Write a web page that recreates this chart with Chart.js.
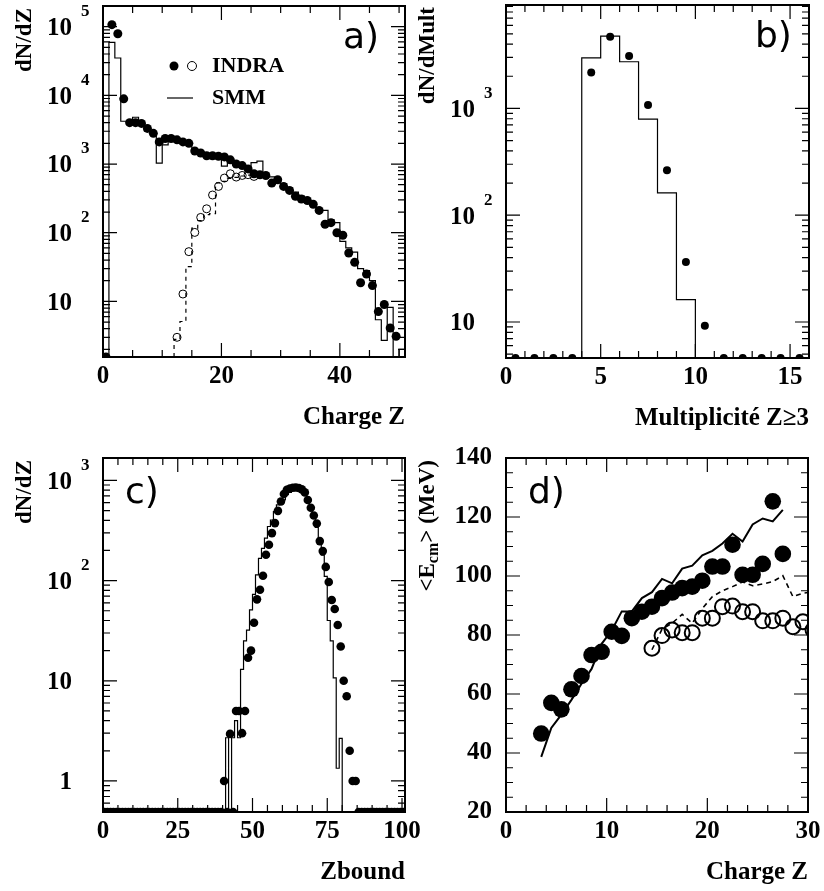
<!DOCTYPE html>
<html>
<head>
<meta charset="utf-8">
<title>INDRA / SMM</title>
<script src="https://cdn.jsdelivr.net/npm/chart.js@4.4.1/dist/chart.umd.min.js"></script>
<style>
  html, body { margin: 0; padding: 0; background: #fff; }
  body { position: relative; width: 824px; height: 891px; overflow: hidden; }
  canvas { position: absolute; }
  #panel-a { left: 0; top: 0; }
  #panel-b { left: 400px; top: 0; }
  #panel-c { left: 0; top: 420px; }
  #panel-d { left: 400px; top: 420px; }
</style>
</head>
<body>
<canvas id="panel-a" width="424" height="440"></canvas>
<canvas id="panel-b" width="424" height="440"></canvas>
<canvas id="panel-c" width="424" height="471"></canvas>
<canvas id="panel-d" width="424" height="471"></canvas>
<script>
const SERIF = '"Liberation Serif", "Times New Roman", serif';

// a) charge distribution (bins of one charge unit)
const aZ = [0, 1, 2, 3, 4, 5, 6, 7, 8, 9, 10, 11, 12, 13, 14, 15, 16, 17, 18, 19, 20, 21, 22, 23, 24,
            25, 26, 27, 28, 29, 30, 31, 32, 33, 34, 35, 36, 37, 38, 39, 40, 41, 42, 43, 44, 45, 46, 47, 48, 49];
const aIndra = [0, 107000, 79000, 8900, 4000, 4000, 3900, 3300, 2800, 2100, 2350, 2350, 2250, 2100, 2000,
                1550, 1450, 1320, 1320, 1300, 1270, 1150, 1000, 950, 850, 722, 698, 682, 528, 590,
                472, 413, 340, 310, 295, 260, 211, 133, 140, 100, 92, 50.6, 37, 18.7, 25, 17, 7.1, 9, 4.1, 3.1];
const aOpenZ = [12, 13, 14, 15, 16, 17, 18, 19, 20, 21, 22, 23, 24, 25];
const aIndraOpen = [3.0, 12.8, 53, 101, 167, 223, 354, 472, 625, 722, 646, 682, 700, 660];
const aSmm = [0, 59000, 35000, 4200, 4200, 4800, 3800, 3000, 2800, 1030, 1900, 2200, 2100, 2000, 1900,
              1600, 1450, 1300, 1200, 1300, 930, 1050, 950, 900, 820, 1050, 1100, 720, 650, 600,
              520, 450, 390, 340, 300, 260, 225, 211, 155, 140, 75, 60, 52, 30, 28, 20, 5.4, 2.7, 8.2, 0, 2.0];
const aSmmOpenStart = 12;
const aSmmOpen = [2.8, 5.1, 32, 117, 150, 183, 190, 530, 560, 620, 640, 670, 690, 700];
const aXTicks = [0, 20, 40];
const aYLabels = [10, 100, 1000, 10000, 100000];

// b) multiplicity of fragments Z>=3
const bMult = [0, 1, 2, 3, 4, 5, 6, 7, 8, 9, 10, 11, 12, 13, 14, 15];
const bIndra = [0, 0, 0, 0, 2175, 4690, 3090, 1074, 264, 36.5, 9.2, 0, 0, 0, 0, 0];
const bSmm = [0, 0, 0, 0, 2980, 4760, 2735, 794, 162, 16.2, 0, 0, 0, 0, 0, 0];
const bXTicks = [0, 5, 10, 15];
const bYLabels = [10, 100, 1000];

// c) Zbound
const cZbound = [0, 1, 2, 3, 4, 5, 6, 7, 8, 9, 10, 11, 12, 13, 14, 15, 16, 17, 18, 19,
                 20, 21, 22, 23, 24, 25, 26, 27, 28, 29, 30, 31, 32, 33, 34, 35, 36, 37, 38, 39,
                 40, 41, 42, 43, 44, 45, 46, 47, 48, 49, 50, 51, 52, 53, 54, 55, 56, 57, 58, 59,
                 60, 61, 62, 63, 64, 65, 66, 67, 68, 69, 70, 71, 72, 73, 74, 75, 76, 77, 78, 79,
                 80, 81, 82, 83, 84, 85, 86, 87, 88, 89, 90, 91, 92, 93, 94, 95, 96, 97, 98, 99, 100];
const cIndra = [0, 0, 0, 0, 0, 0, 0, 0, 0, 0, 0, 0, 0, 0, 0, 0, 0, 0, 0, 0,
                0, 0, 0, 0, 0, 0, 0, 0, 0, 0, 0, 0, 0, 0, 0, 0, 0, 0, 0, 0,
                1.0, 0, 2.95, 0, 5.0, 5.0, 3.0, 5.0, 17, 20, 38, 65, 81, 112, 181, 228, 298, 375, 497, 617,
                733, 808, 830, 845, 850, 840, 815, 760, 638, 533, 447, 372, 248, 197, 137, 97, 64, 52, 36, 22,
                10, 7, 2, 1, 1, 0, 0, 0, 0, 0, 0, 0, 0, 0, 0, 0, 0, 0, 0, 0, 0];
const cSmmStart = 40;
const cSmm = [0, 2.7, 0, 2.7, 4.0, 2.7, 13, 25, 32, 51, 73, 114, 167, 210, 265, 347, 403, 490, 570, 610,
              640, 720, 760, 810, 830, 830, 820, 780, 650, 540, 440, 340, 250, 180, 110, 40, 25, 10.7, 1.34, 2.66, 0];
const cXTicks = [0, 25, 50, 75, 100];
const cYLabels = [1, 10, 100, 1000];

// d) mean c.m. energy versus charge
const dZ = [3, 4, 5, 6, 7, 8, 9, 10, 11, 12, 13, 14, 15, 16, 17, 18, 19, 20, 21, 22, 23, 24, 25, 26, 27];
const dIndra = [46.6, 57.0, 54.8, 61.6, 66.1, 73.2, 74.3, 81.1, 79.7, 85.7, 87.9, 89.6, 92.5, 94.4, 95.9,
                96.4, 98.4, 103.2, 103.2, 110.6, 100.4, 100.4, 104.1, 125.3, 107.5];
const dSmm = [38.7, 48.5, 53, 58, 63.5, 68.5, 77, 81.5, 88, 88, 92.5, 94.5, 99, 97.5, 102.5,
              103.5, 107, 108.5, 111, 114.3, 111.7, 117.5, 119.5, 118.5, 122.4];
const dOpenZ = [14, 15, 16, 17, 18, 19, 20, 21, 22, 23, 24, 25, 26, 27, 28, 29, 30];
const dIndraOpen = [75.5, 79.8, 81.7, 80.8, 80.8, 85.7, 85.7, 89.6, 89.8, 87.9, 87.9, 84.8, 84.8, 85.7, 82.8, 84.5, 81.7];
const dSmmOpen = [75, 82, 84, 87, 84, 89, 93, 95, 96.4, 98, 96.7, 97.3, 98.1, 100.1, 93, 94.2, 94.6];
const dXTicks = [0, 10, 20, 30];
const dYTicks = [20, 40, 60, 80, 100, 120, 140];

// ---------- helpers ----------
// points sit in the middle of their bin; empty bins are pinned to the axis floor
const binPoints = (zs, vals, floor) => zs.map((z, i) => ({ x: z + 0.5, y: vals[i] > 0 ? vals[i] : floor }));

// histogram outline: one point per upper bin edge, drawn with vertical-then-horizontal steps
const histSteps = (start, vals, floor) => {
    const pts = [{ x: start, y: floor }];
    vals.forEach((v, i) => pts.push({ x: start + i + 1, y: v > 0 ? v : floor }));
    return pts;
};

const dots = (data, r, filled, bw) => ({
    data, showLine: false, pointRadius: r, pointHoverRadius: r,
    pointBackgroundColor: filled ? '#000' : 'rgba(0,0,0,0)',
    pointBorderColor: '#000', pointBorderWidth: filled ? 0 : (bw || 1), clip: 0
});
const hist = (data, dash) => ({
    data, showLine: true, stepped: 'after', pointRadius: 0, borderColor: '#000',
    borderWidth: 1.2, borderDash: dash || [], fill: false, clip: 0
});
const curve = (data, width, dash) => ({
    data, showLine: true, pointRadius: 0, borderColor: '#000',
    borderWidth: width, borderDash: dash || [], fill: false, tension: 0, clip: 0
});

function logMarks(min, max) {
    const major = [], minor = [];
    for (let e = Math.floor(Math.log10(min)); e <= Math.ceil(Math.log10(max)); e++) {
        const d = Math.pow(10, e);
        if (d >= min && d <= max) major.push(d);
        for (let m = 2; m <= 9; m++) {
            if (m * d >= min && m * d <= max) minor.push(m * d);
        }
    }
    return { major, minor };
}
function linMarks(min, max, step) {
    const out = [];
    for (let v = min; v <= max + 1e-9; v += step) out.push(Math.round(v * 1000) / 1000);
    return out;
}

// ---------- ROOT-like frame, ticks and texts ----------
const FRAMES = {};
const rootFrame = {
    id: 'rootFrame',
    afterDraw(chart) {
        const p = FRAMES[chart.canvas.id];
        if (!p) return;
        const { ctx, chartArea: a } = chart;
        const sx = chart.scales.x, sy = chart.scales.y;
        ctx.save();
        ctx.strokeStyle = '#000';
        ctx.fillStyle = '#000';

        // tick marks pointing inwards, on all four sides
        ctx.lineWidth = 1.2;
        ctx.beginPath();
        const markX = (v, len) => {
            const px = sx.getPixelForValue(v);
            ctx.moveTo(px, a.bottom); ctx.lineTo(px, a.bottom - len);
            ctx.moveTo(px, a.top); ctx.lineTo(px, a.top + len);
        };
        const markY = (v, len) => {
            const py = sy.getPixelForValue(v);
            ctx.moveTo(a.left, py); ctx.lineTo(a.left + len, py);
            ctx.moveTo(a.right, py); ctx.lineTo(a.right - len, py);
        };
        p.xMajor.forEach(v => markX(v, 14));
        p.xMinor.forEach(v => markX(v, 7));
        p.yMajor.forEach(v => markY(v, 14));
        p.yMinor.forEach(v => markY(v, 7));
        ctx.stroke();

        ctx.lineWidth = 2;
        ctx.strokeRect(a.left, a.top, a.right - a.left, a.bottom - a.top);

        // log axis labels: 1, 10, 10^n
        if (p.logLabels) {
            p.logLabels.forEach(v => {
                const py = sy.getPixelForValue(v);
                const e = Math.round(Math.log10(v));
                ctx.font = `bold 25px ${SERIF}`;
                ctx.textAlign = 'right';
                ctx.textBaseline = 'middle';
                ctx.fillText(e === 0 ? '1' : '10', a.left - 31, py + 2);
                if (e > 1) {
                    ctx.font = `bold 17px ${SERIF}`;
                    ctx.textAlign = 'left';
                    ctx.fillText(String(e), a.left - 22, py - 15);
                }
            });
        }

        // x title, right aligned on the frame
        ctx.font = `bold 25px ${SERIF}`;
        ctx.textAlign = 'right';
        ctx.textBaseline = 'middle';
        ctx.fillText(p.xTitle, a.right, a.bottom + 61);

        // y title, rotated, ending at the top of the frame
        ctx.save();
        ctx.translate(a.left - 78, a.top + 2);
        ctx.rotate(-Math.PI / 2);
        ctx.textAlign = 'left';
        ctx.textBaseline = 'middle';
        const fMain = `bold 23px ${SERIF}`, fSub = `bold 16px ${SERIF}`;
        let total = 0;
        p.yTitle.forEach(([t, sub]) => { ctx.font = sub ? fSub : fMain; total += ctx.measureText(t).width; });
        let cx = -total;
        p.yTitle.forEach(([t, sub]) => {
            ctx.font = sub ? fSub : fMain;
            ctx.fillText(t, cx, sub ? 6 : 0);
            cx += ctx.measureText(t).width;
        });
        ctx.restore();

        // panel tag
        ctx.font = '36px "DejaVu Sans", sans-serif';
        ctx.textAlign = 'left';
        ctx.textBaseline = 'alphabetic';
        ctx.fillText(p.tag[0], p.tag[1], p.tag[2]);

        // legend (panel a only)
        if (p.legend) {
            const L = p.legend;
            ctx.beginPath(); ctx.arc(L.dotX, L.row1, 4.5, 0, 2 * Math.PI); ctx.fill();
            ctx.lineWidth = 1;
            ctx.beginPath(); ctx.arc(L.ringX, L.row1, 4.5, 0, 2 * Math.PI); ctx.stroke();
            ctx.lineWidth = 1.2;
            ctx.beginPath(); ctx.moveTo(L.lineX0, L.row2); ctx.lineTo(L.lineX1, L.row2); ctx.stroke();
            ctx.font = `bold 22px ${SERIF}`;
            ctx.textBaseline = 'middle';
            ctx.fillText('INDRA', L.textX, L.row1);
            ctx.fillText('SMM', L.textX, L.row2);
        }
        ctx.restore();
    }
};
Chart.register(rootFrame);

function makeScales(p) {
    const tickFont = { family: SERIF, size: 25, weight: 'bold' };
    return {
        x: {
            type: 'linear', min: p.xMin, max: p.xMax, bounds: 'data',
            grid: { display: false, drawTicks: false }, border: { display: false },
            ticks: { font: tickFont, color: '#000', padding: 5, maxRotation: 0, autoSkip: false },
            afterBuildTicks: s => { s.ticks = p.xTicks.map(v => ({ value: v })); },
            afterFit: s => { s.height = p.xHeight; s.paddingLeft = 0; s.paddingRight = 0; }
        },
        y: {
            type: p.yLog ? 'logarithmic' : 'linear', min: p.yMin, max: p.yMax, bounds: 'data',
            grid: { display: false, drawTicks: false }, border: { display: false },
            ticks: p.yLog ? { display: false } : { font: tickFont, color: '#000', padding: 14, autoSkip: false },
            afterBuildTicks: s => { if (p.yTicks) s.ticks = p.yTicks.map(v => ({ value: v })); },
            afterFit: s => { s.width = p.yWidth; s.paddingTop = 0; s.paddingBottom = 0; }
        }
    };
}

function makePanel(id, p, datasets) {
    FRAMES[id] = p;
    return new Chart(document.getElementById(id), {
        type: 'scatter',
        data: { datasets },
        options: {
            responsive: false, animation: false, devicePixelRatio: 1, events: [],
            layout: { padding: { left: 0, top: p.padT, right: p.padR, bottom: 0 } },
            plugins: { legend: { display: false }, tooltip: { enabled: false } },
            scales: makeScales(p)
        }
    });
}

// ---------- panel a ----------
const A_MIN = 1.55, A_MAX = 2.0e5;
const aLog = logMarks(A_MIN, A_MAX);
makePanel('panel-a', {
    xMin: 0, xMax: 51, yMin: A_MIN, yMax: A_MAX, yLog: true,
    yWidth: 103, padT: 6, padR: 19, xHeight: 83,
    xTicks: aXTicks, xMajor: aXTicks, xMinor: linMarks(0, 50, 5),
    yMajor: aLog.major, yMinor: aLog.minor, logLabels: aYLabels,
    xTitle: 'Charge Z', yTitle: [['dN/dZ', 0]], tag: ['a)', 343, 48],
    legend: { dotX: 174, ringX: 192, row1: 66, lineX0: 167, lineX1: 193, row2: 98, textX: 212 }
}, [
    dots(binPoints(aZ, aIndra, A_MIN), 4.5, true),
    dots(binPoints(aOpenZ, aIndraOpen, A_MIN), 4, false, 1),
    hist(histSteps(0, aSmm, A_MIN)),
    hist(histSteps(aSmmOpenStart, aSmmOpen, A_MIN), [4, 4])
]);

// ---------- panel b ----------
const B_MIN = 4.6, B_MAX = 9300;
const bLog = logMarks(B_MIN, B_MAX);
makePanel('panel-b', {
    xMin: 0, xMax: 16, yMin: B_MIN, yMax: B_MAX, yLog: true,
    yWidth: 106, padT: 5, padR: 15, xHeight: 82,
    xTicks: bXTicks, xMajor: bXTicks, xMinor: linMarks(0, 16, 1),
    yMajor: bLog.major, yMinor: bLog.minor, logLabels: bYLabels,
    xTitle: 'Multiplicité Z≥3', yTitle: [['dN/dMult', 0]], tag: ['b)', 355, 47]
}, [
    dots(binPoints(bMult, bIndra, B_MIN), 4, true),
    hist(histSteps(0, bSmm, B_MIN))
]);

// ---------- panel c ----------
const C_MIN = 0.49, C_MAX = 1675;
const cLog = logMarks(C_MIN, C_MAX);
makePanel('panel-c', {
    xMin: 0, xMax: 101, yMin: C_MIN, yMax: C_MAX, yLog: true,
    yWidth: 103, padT: 38, padR: 19, xHeight: 79,
    xTicks: cXTicks, xMajor: cXTicks, xMinor: linMarks(0, 100, 5),
    yMajor: cLog.major, yMinor: cLog.minor, logLabels: cYLabels,
    xTitle: 'Zbound', yTitle: [['dN/dZ', 0]], tag: ['c)', 125, 83]
}, [
    dots(binPoints(cZbound, cIndra, C_MIN), 4.3, true),
    hist(histSteps(cSmmStart, cSmm, C_MIN))
]);

// ---------- panel d ----------
makePanel('panel-d', {
    xMin: 0, xMax: 30, yMin: 20, yMax: 140, yLog: false, yTicks: dYTicks,
    yWidth: 106, padT: 38, padR: 16, xHeight: 79,
    xTicks: dXTicks, xMajor: dXTicks, xMinor: linMarks(0, 30, 2),
    yMajor: dYTicks, yMinor: linMarks(20, 140, 5),
    xTitle: 'Charge Z', yTitle: [['<E', 0], ['cm', 1], ['> (MeV)', 0]], tag: ['d)', 128, 83]
}, [
    dots(binPoints(dZ, dIndra, 20), 8.3, true),
    dots(binPoints(dOpenZ, dIndraOpen, 20), 7.5, false, 2),
    curve(binPoints(dZ, dSmm, 20), 2),
    curve(binPoints(dOpenZ, dSmmOpen, 20), 1.6, [5, 4])
]);
</script>
</body>
</html>
